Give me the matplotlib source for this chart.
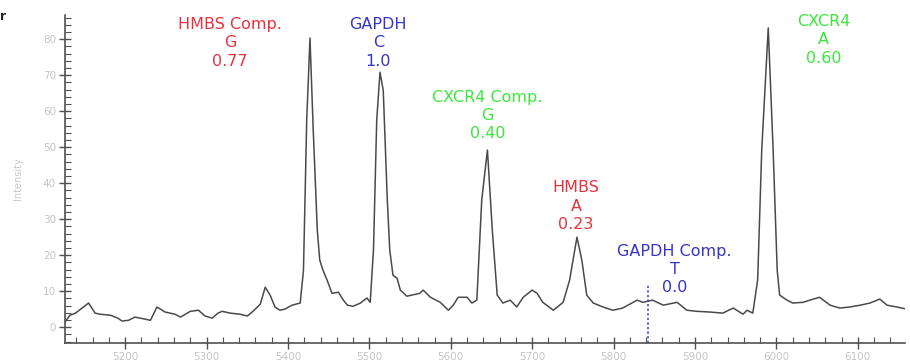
import matplotlib
matplotlib.use("Agg")
from matplotlib import pyplot as plt
from matplotlib.ticker import MultipleLocator

# Spectrum trace (m/z, intensity)
mz = [5126, 5132, 5139, 5155, 5163, 5169, 5182, 5191, 5196, 5204, 5212, 5225, 5231,
      5239, 5249, 5261, 5268, 5280, 5290, 5298, 5307, 5314, 5319, 5329, 5341, 5350,
      5357, 5366, 5372, 5378, 5384, 5390, 5396, 5405, 5415, 5419, 5423, 5427, 5431,
      5436, 5439, 5443, 5448, 5454, 5462, 5468, 5473, 5480, 5489, 5497, 5501, 5505,
      5509, 5513, 5517, 5522, 5525, 5529, 5534, 5538, 5546, 5562, 5566, 5575, 5587,
      5597, 5603, 5609, 5620, 5626, 5632, 5638, 5645, 5651, 5657, 5664, 5673, 5681,
      5689, 5700, 5706, 5713, 5726, 5738, 5746, 5755, 5761, 5767, 5775, 5787, 5799,
      5811, 5829, 5836, 5848, 5861, 5878, 5890, 5902, 5918, 5934, 5947, 5959, 5964,
      5971, 5977, 5982, 5990, 5996, 6001, 6004, 6013, 6020, 6033, 6041, 6053, 6066,
      6078, 6090, 6103, 6115, 6127, 6136, 6148, 6160]
intensity = [1.4, 3.3, 3.9, 6.7, 3.9, 3.6, 3.3, 2.5, 1.7, 1.9, 2.8, 2.2, 1.9,
             5.6, 4.2, 3.6, 2.8, 4.4, 4.7, 3.1, 2.5, 3.9, 4.4, 3.9, 3.6, 3.1,
             4.4, 6.4, 11.1, 8.9, 5.6, 4.7, 5.0, 6.1, 6.7, 15.8, 57.5, 80.3, 54.7,
             26.9, 18.6, 15.8, 13.1, 9.4, 9.7, 7.5, 6.1, 5.8, 6.7, 8.1, 6.9, 21.4,
             57.5, 70.8, 65.8, 35.3, 21.4, 14.4, 13.6, 10.3, 8.6, 9.4, 10.3, 8.3, 6.9,
             4.7, 6.1, 8.3, 8.3, 6.7, 7.5, 35.3, 49.2, 26.9, 8.9, 6.7, 7.5, 5.6,
             8.3, 10.3, 9.4, 6.9, 4.7, 6.9, 13.1, 25.0, 18.6, 8.9, 6.7, 5.6, 4.7,
             5.3, 7.5, 6.9, 7.5, 6.1, 6.9, 4.7, 4.4, 4.2, 3.9, 5.3, 3.6, 4.7,
             3.9, 13.1, 49.2, 83.1, 49.2, 15.8, 8.9, 7.5, 6.7, 6.9, 7.5, 8.3, 6.1,
             5.3, 5.6, 6.1, 6.7, 7.8, 6.1, 5.6, 5.0]

# Peak annotations
gene_names = ["HMBS Comp.", "GAPDH", "CXCR4 Comp.", "HMBS", "GAPDH Comp.", "CXCR4"]
alleles = ["G", "C", "G", "A", "T", "A"]
ratios = ["0.77", "1.0", "0.40", "0.23", "0.0", "0.60"]
label_colors = ["#e8333d", "#3535c8", "#3ae83a", "#e8333d", "#3535c8", "#3ae83a"]
label_mz = [5329, 5511, 5645, 5754, 5875, 6058]
label_top = [86.2, 86.2, 66.0, 40.8, 23.2, 87.0]

# The expected position of the missing GAPDH Comp. peak
missing_mz = 5842
missing_top = 12

fig = plt.figure(figsize=(9.1, 3.63), dpi=100)
ax = fig.add_axes([0.0714, 0.0551, 0.9231, 0.9036])

ax.plot(mz, intensity, color="#4a4a4a", linewidth=1.1)
ax.vlines(missing_mz, -4.4, missing_top, colors="#3a3ae0", linestyles=(0, (1.5, 1.5)), linewidth=1.1)

for name, allele, ratio, col, x, y in zip(gene_names, alleles, ratios, label_colors, label_mz, label_top):
    ax.text(x, y, name + "\n" + allele + "\n" + ratio, color=col, fontsize=11.5,
            ha="center", va="top", linespacing=1.28, clip_on=False)

ax.set_xlim(5126, 6158)
ax.set_ylim(-4.4, 86.7)

ax.xaxis.set_major_locator(MultipleLocator(100))
ax.xaxis.set_minor_locator(MultipleLocator(20))
ax.yaxis.set_major_locator(MultipleLocator(10))
ax.yaxis.set_minor_locator(MultipleLocator(2))

for side in ["top", "right"]:
    ax.spines[side].set_visible(False)
for side in ["left", "bottom"]:
    ax.spines[side].set_color("#505050")
    ax.spines[side].set_linewidth(1.2)

ax.tick_params(which="major", direction="inout", length=9, width=1.0, color="#505050",
               labelsize=7.5, labelcolor="#c4c4c4")
ax.tick_params(which="minor", direction="in", length=4, width=0.8, color="#505050")
ax.tick_params(axis="x", which="major", pad=2)
ax.tick_params(axis="y", which="major", pad=2)

ax.set_ylabel("Intensity", fontsize=7, color="#c8c8c8", labelpad=14)

fig.text(0.0, 0.945, "r", fontsize=9, fontweight="bold", color="#222222")

fig.savefig("out.png", dpi=100)
